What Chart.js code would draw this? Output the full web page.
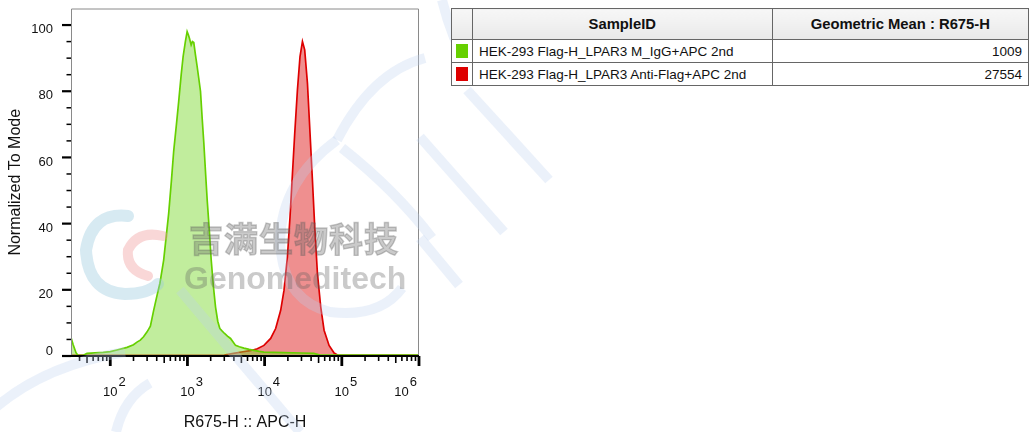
<!DOCTYPE html>
<html>
<head>
<meta charset="utf-8">
<script src="https://cdn.jsdelivr.net/npm/chart.js@4.4.1/dist/chart.umd.min.js"></script>
<style>
  body { margin: 0; background: #fff; width: 1029px; height: 432px; overflow: hidden; position: relative; font-family: "Liberation Sans", Arial, sans-serif; }
  #plot { position: absolute; left: 0; top: 0; width: 430px; height: 432px; }
  #stats { position: absolute; left: 451px; top: 8px; border-collapse: collapse; font-size: 13.5px; color: #111; background: #fff; z-index: 3; }
  #stats td, #stats th { border: 1px solid #666; padding: 0 6px; white-space: nowrap; }
  #stats th { height: 30px; font-size: 14.8px; font-weight: bold; background: linear-gradient(#f7f7f7, #e9e9e9); }
  #stats td { height: 22px; }
  #stats .sw { width: 8px; padding: 0 4px; }
  #stats .sw span { display: block; width: 12px; height: 14px; }
  #stats .num { text-align: right; }
  #mark { position: absolute; left: 0; top: 0; width: 1029px; height: 432px; pointer-events: none; z-index: 2; }
  .wm { position: absolute; color: rgba(95, 95, 95, 0.33); font-weight: bold; white-space: nowrap; z-index: 2; pointer-events: none; }
</style>
</head>
<body>
<div id="plot"><canvas id="histo"></canvas></div>

<table id="stats">
  <tr><th></th><th style="width:288px">SampleID</th><th style="width:248px">Geometric Mean : R675-H</th></tr>
</table>

<svg id="mark" width="1029" height="432">
  <g fill="none" stroke="rgba(190,208,238,0.30)" stroke-width="10" stroke-linecap="butt">
    <path d="M -5 408 Q 45 365 125 352"/>
    <path d="M 116 432 Q 124 398 150 383"/>
    <path d="M 180 290 L 300 432"/>
    <path d="M 337 140 Q 282 180 280 240 Q 282 300 330 312 Q 380 318 402 288"/>
    <path d="M 337 140 Q 372 72 425 58"/>
    <path d="M 342 148 Q 395 190 432 238"/>
    <path d="M 442 0 Q 452 40 470 70"/>
    <path d="M 467 90 L 549 180"/>
    <path d="M 420 137 L 504 232"/>
    <path d="M 420 238 L 459 285"/>
  </g>
  <g fill="none" stroke-linecap="round">
    <path d="M 128 216 Q 92 212 86 250 Q 88 292 125 294 Q 148 294 158 284" stroke="rgba(150,200,222,0.38)" stroke-width="12"/>
    <path d="M 163 236 Q 138 230 128 250 Q 126 270 148 276" stroke="rgba(240,150,150,0.38)" stroke-width="10"/>
  </g>
</svg>
<div class="wm" style="left:189px; top:213px; font-size:34px; font-family:'Noto Sans CJK SC', sans-serif; letter-spacing:1px; -webkit-text-stroke: 1.4px rgba(95,95,95,0.33);">吉满生物科技</div>
<div class="wm" style="left:184px; top:260px; font-size:32px; font-family:'Liberation Sans', Arial, sans-serif;">Genomeditech</div>

<script>
// histogram of the isotype control (green)
const igX = [31, 33, 36, 38, 45, 50, 81, 100, 122, 165, 200, 222, 245, 270, 300, 331, 365, 410, 440, 492, 530, 571, 620, 664, 720, 771, 830, 879, 940, 991, 1030, 1061, 1117, 1160, 1208, 1270, 1337, 1400, 1476, 1550, 1631, 1720, 1804, 1920, 2032, 2170, 2312, 2470, 2627, 2820, 3025, 3300, 3617, 4200, 4700, 5385, 6300, 7262, 8500, 9795, 13000, 17660, 30000, 43250, 48300, 52000, 100000, 1000000];
const igY = [5.6, 3.5, 1.0, 0.2, 0.2, 0.8, 1.1, 1.3, 1.8, 2.6, 3.4, 4.2, 4.8, 5.8, 7.3, 9.0, 13.8, 19.0, 22, 29, 36, 43, 53, 62, 70, 77, 85, 90.5, 95, 98, 97, 96, 94, 95, 94.7, 91, 87.4, 84, 80, 72, 64.3, 55, 47, 38, 29, 21, 14.8, 10.5, 8.3, 7.5, 6.8, 6.0, 5.3, 3.2, 2.8, 2.4, 2.0, 1.7, 1.4, 1.2, 1.1, 1.0, 0.9, 0.8, 0.5, 0.3, 0.3, 0.3];

// histogram of anti-Flag stained cells (red)
const flagX = [31, 3000, 3955, 5000, 6500, 8040, 9795, 11970, 13900, 16140, 17830, 19730, 21330, 22920, 24550, 26610, 28730, 30900, 33050, 35870, 38740, 41610, 44580, 48300, 53330, 58900, 68390, 79430, 87900, 1000000];
const flagY = [0.2, 0.3, 0.8, 1.2, 1.6, 2.2, 3.2, 5.3, 8.3, 13.8, 19.9, 30, 42, 55, 67.3, 80.4, 90.5, 95, 92.5, 82.4, 67.3, 53.2, 39, 25, 14.8, 7.8, 3.2, 0.9, 0.3, 0.2];

const sampleNames = ["HEK-293 Flag-H_LPAR3 M_IgG+APC 2nd", "HEK-293 Flag-H_LPAR3 Anti-Flag+APC 2nd"];
const geoMeans = [1009, 27554];
const lineColors = ["rgb(102,208,0)", "rgb(222,0,0)"];
const fillColors = ["rgba(118,214,38,0.45)", "rgba(225,40,40,0.52)"];

const xDecades = [2, 3, 4, 5, 6];
const yLabels = [0, 20, 40, 60, 80, 100];

// stats table
let table = document.getElementById("stats");
for (let i = 0; i < sampleNames.length; i++) {
  let tr = document.createElement("tr");
  tr.innerHTML = '<td class="sw"><span style="background:' + lineColors[i] + '"></span></td>' +
    '<td>' + sampleNames[i] + '</td><td class="num">' + geoMeans[i] + '</td>';
  table.appendChild(tr);
}

function pts(xs, ys) {
  return xs.map((x, i) => ({x: x, y: ys[i]}));
}

// frame, tick marks and tick labels like FlowJo draws them
const flowAxes = {
  id: "flowAxes",
  afterDraw(chart) {
    const ctx = chart.ctx;
    const a = chart.chartArea;
    const xs = chart.scales.x;
    const ys = chart.scales.y;
    ctx.save();
    ctx.strokeStyle = "#8a8a8a";
    ctx.lineWidth = 1;
    ctx.beginPath();
    ctx.moveTo(a.left + 0.5, a.bottom);
    ctx.lineTo(a.left + 0.5, a.top + 0.5);
    ctx.lineTo(a.right - 0.5, a.top + 0.5);
    ctx.lineTo(a.right - 0.5, a.bottom);
    ctx.stroke();

    ctx.strokeStyle = "#000";
    ctx.lineWidth = 2;
    ctx.beginPath();
    ctx.moveTo(a.left - 9, a.bottom);
    ctx.lineTo(a.right, a.bottom);
    ctx.stroke();

    // y ticks
    for (let v = 0; v <= 100; v += 5) {
      const py = ys.getPixelForValue(v);
      const major = v % 20 === 0;
      ctx.lineWidth = major ? 2.2 : 1.5;
      ctx.beginPath();
      ctx.moveTo(a.left - (major ? 9 : 4.5), py);
      ctx.lineTo(a.left, py);
      ctx.stroke();
    }
    ctx.fillStyle = "#111";
    ctx.font = "13px 'Liberation Sans', Arial, sans-serif";
    ctx.textAlign = "right";
    ctx.textBaseline = "middle";
    yLabels.forEach(v => {
      const py = ys.getPixelForValue(v);
      ctx.fillText(String(v), 53, v === 0 ? py - 4.5 : py + 4.5);
    });

    // x ticks
    for (let e = 1; e <= 6; e++) {
      for (let m = 1; m <= 9; m++) {
        const v = m * Math.pow(10, e);
        if (v < xs.min || v > xs.max) continue;
        const px = xs.getPixelForValue(v);
        const len = m === 1 ? 10 : (m === 5 ? 7 : 5);
        ctx.lineWidth = m === 1 ? 2.8 : 1.6;
        ctx.beginPath();
        ctx.moveTo(px, a.bottom);
        ctx.lineTo(px, a.bottom + len);
        ctx.stroke();
      }
    }
    xDecades.forEach(e => {
      let px = xs.getPixelForValue(Math.pow(10, e));
      ctx.textAlign = "center";
      const w = ctx.measureText("10").width;
      const ew = ctx.measureText(String(e)).width;
      if (px + w / 2 + ew + 2 > a.right) px = a.right - w / 2 - ew - 3;
      ctx.fillText("10", px, 392);
      ctx.textAlign = "left";
      ctx.fillText(String(e), px + w / 2 + 1, 382);
    });
    ctx.restore();
  }
};

new Chart("histo", {
  type: "scatter",
  data: {
    datasets: [{
      data: pts(igX, igY),
      showLine: true,
      borderColor: lineColors[0],
      backgroundColor: fillColors[0],
      borderWidth: 1.7,
      pointRadius: 0,
      fill: "origin"
    }, {
      data: pts(flagX, flagY),
      showLine: true,
      borderColor: lineColors[1],
      backgroundColor: fillColors[1],
      borderWidth: 1.7,
      pointRadius: 0,
      fill: "origin"
    }]
  },
  options: {
    responsive: true,
    maintainAspectRatio: false,
    animation: false,
    layout: {padding: {top: 8.5, right: 11, left: 0, bottom: 0}},
    plugins: {legend: {display: false}, tooltip: {enabled: false}},
    scales: {
      x: {
        type: "logarithmic",
        min: 31,
        max: 1000000,
        afterFit(s) { s.height = 76; },
        grid: {display: false, drawTicks: false},
        border: {display: false},
        ticks: {display: false},
        title: {display: true, text: "R675-H :: APC-H", color: "#111",
          font: {size: 16, family: "'Liberation Sans', Arial, sans-serif"}, padding: {top: 0, bottom: 0}}
      },
      y: {
        min: 0,
        max: 105,
        afterFit(s) { s.width = 71; },
        grid: {display: false, drawTicks: false},
        border: {display: false},
        ticks: {display: false},
        title: {display: true, text: "Normalized To Mode", color: "#111",
          font: {size: 16, family: "'Liberation Sans', Arial, sans-serif"}, padding: {top: 6.4, bottom: 0}}
      }
    }
  },
  plugins: [flowAxes]
});
</script>
</body>
</html>
